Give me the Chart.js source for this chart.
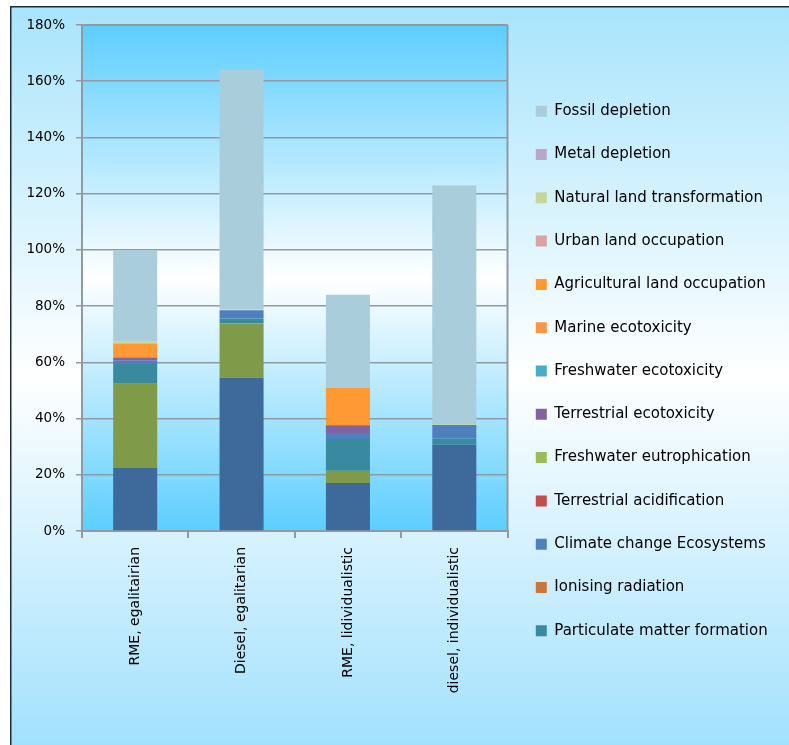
<!DOCTYPE html>
<html>
<head>
<meta charset="utf-8">
<script src="https://cdn.jsdelivr.net/npm/chart.js@4.4.1/dist/chart.umd.min.js"></script>
<style>
  html, body { margin: 0; padding: 0; background: #fff; }
  canvas { display: block; }
</style>
</head>
<body>
<canvas id="chart" width="789" height="745"></canvas>
<script>
// Scenario categories (x axis)
const categories = ['RME, egalitairian', 'Diesel, egalitarian', 'RME, lidividualistic', 'diesel, individualistic'];

// Y axis: percentage of the RME egalitarian total
const yMin = 0;
const yMax = 180;
const yStep = 20;

// Impact category contributions, in %, one value per scenario (stacked bottom to top)
const climateChangeHumanHealth = [22.4, 54.5, 17.1, 30.8];
const humanToxicity            = [30.0, 19.3, 4.3, 0];
const particulateMatter        = [7.0, 1.8, 11.3, 2.1];
const ionisingRadiation        = [0, 0, 0, 0];
const climateChangeEcosystems  = [1.2, 2.9, 2.2, 4.8];
const terrestrialAcidification = [0, 0, 0, 0];
const freshwaterEutrophication = [0, 0, 0, 0];
const terrestrialEcotoxicity   = [1.1, 0, 2.7, 0];
const freshwaterEcotoxicity    = [0, 0, 0, 0];
const marineEcotoxicity        = [0, 0, 0, 0];
const agriculturalLand         = [5.0, 0, 13.3, 0];
const urbanLand                = [0, 0, 0, 0];
const naturalLand              = [0.8, 0.3, 0, 0.2];
const metalDepletion           = [0, 0, 0, 0];
const fossilDepletion          = [32.5, 85.2, 33.1, 85.0];

const series = [
  { name: 'Climate change Human Health', values: climateChangeHumanHealth, color: '#3e6a9b', inLegend: false },
  { name: 'Human toxicity',              values: humanToxicity,            color: '#7f9a48', inLegend: false },
  { name: 'Particulate matter formation', values: particulateMatter,       color: '#3a8a9f' },
  { name: 'Ionising radiation',          values: ionisingRadiation,        color: '#c8773a' },
  { name: 'Climate change Ecosystems',   values: climateChangeEcosystems,  color: '#4f80bd' },
  { name: 'Terrestrial acidification',   values: terrestrialAcidification, color: '#c0504d' },
  { name: 'Freshwater eutrophication',   values: freshwaterEutrophication, color: '#9bbb59' },
  { name: 'Terrestrial ecotoxicity',     values: terrestrialEcotoxicity,   color: '#8064a2' },
  { name: 'Freshwater ecotoxicity',      values: freshwaterEcotoxicity,    color: '#4bacc6' },
  { name: 'Marine ecotoxicity',          values: marineEcotoxicity,        color: '#f79646' },
  { name: 'Agricultural land occupation', values: agriculturalLand,        color: '#ff9933' },
  { name: 'Urban land occupation',       values: urbanLand,                color: '#d9a3a2' },
  { name: 'Natural land transformation', values: naturalLand,              color: '#c3d69b' },
  { name: 'Metal depletion',             values: metalDepletion,           color: '#b9a7c9' },
  { name: 'Fossil depletion',            values: fossilDepletion,          color: '#a9cdda' }
];

const FONT = '"DejaVu Sans", Verdana, sans-serif';
const LEGEND_SIZE = 15;
const LEGEND_PAD = 28.3;
const LEGEND_BOX = 11;
const PLOT_RIGHT = 507.5;
const GRID = '#8f9aa3';

// Size the right padding so the legend column starts where the plot ends
const measure = document.createElement('canvas').getContext('2d');
measure.font = LEGEND_SIZE + 'px ' + FONT;
const widest = Math.max(...series.filter(s => s.inLegend !== false).map(s => measure.measureText(s.name).width));
const legendWidth = LEGEND_PAD + LEGEND_BOX + LEGEND_SIZE / 2 + widest + 10;
const padRight = Math.max(0, 789 - PLOT_RIGHT - legendWidth);

// Page frame and plot-area gradients
const backdrop = {
  id: 'backdrop',
  beforeDraw(chart) {
    const { ctx, chartArea: a, width, height } = chart;
    ctx.save();
    ctx.fillStyle = '#ffffff';
    ctx.fillRect(0, 0, width, height);

    const outer = ctx.createLinearGradient(0, 7, 0, height);
    outer.addColorStop(0, '#a8e4fc');
    outer.addColorStop(0.5, '#ffffff');
    outer.addColorStop(1, '#a2e1fd');
    ctx.fillStyle = outer;
    ctx.fillRect(10, 6, width - 10, height - 6);

    ctx.strokeStyle = '#1e2c33';
    ctx.lineWidth = 1.5;
    ctx.beginPath();
    ctx.moveTo(10.75, height);
    ctx.lineTo(10.75, 6.75);
    ctx.lineTo(width, 6.75);
    ctx.stroke();

    const inner = ctx.createLinearGradient(0, a.top, 0, a.bottom);
    inner.addColorStop(0, '#5ccefe');
    inner.addColorStop(0.5, '#ffffff');
    inner.addColorStop(1, '#5ccefe');
    ctx.fillStyle = inner;
    ctx.fillRect(a.left, a.top, a.right - a.left, a.bottom - a.top);
    ctx.restore();
  },
  afterDatasetsDraw(chart) {
    const { ctx, chartArea: a } = chart;
    ctx.save();
    ctx.strokeStyle = GRID;
    ctx.lineWidth = 2;
    ctx.beginPath();
    ctx.moveTo(a.left, a.top);
    ctx.lineTo(a.right, a.top);
    ctx.moveTo(a.right, a.top);
    ctx.lineTo(a.right, a.bottom);
    ctx.stroke();
    ctx.restore();
  }
};

new Chart(document.getElementById('chart'), {
  type: 'bar',
  data: {
    labels: categories,
    datasets: series.map(s => ({
      label: s.name,
      data: s.values,
      backgroundColor: s.color,
      borderWidth: 0,
      inLegend: s.inLegend !== false,
      categoryPercentage: 1,
      barPercentage: 0.414
    }))
  },
  options: {
    responsive: false,
    animation: false,
    devicePixelRatio: 1,
    layout: { padding: { top: 25, right: padRight, bottom: 28, left: 0 } },
    plugins: {
      legend: {
        position: 'right',
        align: 'center',
        reverse: true,
        maxWidth: 400,
        labels: {
          boxWidth: LEGEND_BOX,
          boxHeight: LEGEND_BOX,
          padding: LEGEND_PAD,
          color: '#000',
          font: { family: FONT, size: LEGEND_SIZE },
          filter: (item, data) => data.datasets[item.datasetIndex].inLegend
        }
      },
      tooltip: { enabled: false }
    },
    scales: {
      x: {
        stacked: true,
        offset: true,
        grid: { display: true, drawOnChartArea: false, color: GRID, lineWidth: 2, tickLength: 7 },
        border: { color: GRID, width: 2 },
        ticks: {
          color: '#000',
          font: { family: FONT, size: 14 },
          minRotation: 90,
          maxRotation: 90,
          padding: 9,
          autoSkip: false
        },
        afterFit: scale => { scale.height = 186; }
      },
      y: {
        stacked: true,
        min: yMin,
        max: yMax,
        grid: { color: GRID, lineWidth: 1.5, tickLength: 6 },
        border: { color: GRID, width: 2 },
        ticks: {
          stepSize: yStep,
          color: '#000',
          font: { family: FONT, size: 13.5 },
          padding: 11,
          callback: v => v + '%'
        },
        afterFit: scale => { scale.width = 82; }
      }
    }
  },
  plugins: [backdrop]
});
</script>
</body>
</html>
